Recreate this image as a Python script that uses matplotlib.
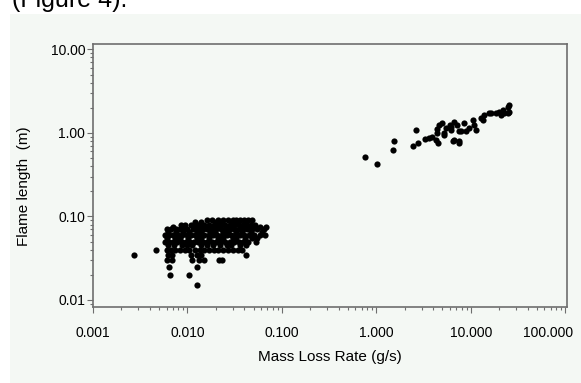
import numpy as np
import matplotlib
matplotlib.use("Agg")
import matplotlib.pyplot as plt
import matplotlib.transforms as mtransforms
from matplotlib.ticker import FixedLocator, FixedFormatter, LogLocator, NullFormatter
from matplotlib.patches import Rectangle

plt.rcParams['font.family'] = ['Liberation Sans', 'DejaVu Sans']

# lab-scale burns: flame length levels (m) and the mass loss rates (g/s) read at each level
flame_levels = [0.09, 0.085, 0.08, 0.075, 0.07, 0.065, 0.06, 0.055, 0.05, 0.045,
                0.04, 0.035, 0.03, 0.025, 0.02, 0.015]
mass_rows = [
    [0.016, 0.018, 0.021, 0.024, 0.027, 0.030, 0.033, 0.036, 0.040, 0.044, 0.048],
    [0.012, 0.014, 0.020, 0.023, 0.029, 0.034, 0.041],
    [0.0085, 0.0095, 0.011, 0.013, 0.015, 0.017, 0.019, 0.022, 0.025, 0.028,
     0.031, 0.035, 0.039, 0.043, 0.047, 0.052],
    [0.007, 0.009, 0.012, 0.014, 0.017, 0.021, 0.026, 0.030, 0.037, 0.045, 0.058, 0.067],
    [0.0060, 0.0067, 0.0075, 0.0083, 0.0092, 0.010, 0.0115, 0.013, 0.0145, 0.016,
     0.018, 0.020, 0.0225, 0.025, 0.028, 0.031, 0.035, 0.039, 0.043, 0.048, 0.055, 0.064],
    [0.0062, 0.0075, 0.009, 0.0105, 0.0125, 0.014, 0.0175, 0.0195, 0.024, 0.027,
     0.033, 0.038, 0.047, 0.062],
    [0.0058, 0.0064, 0.0071, 0.0079, 0.0088, 0.0098, 0.011, 0.012, 0.0135, 0.015,
     0.0168, 0.0185, 0.0205, 0.023, 0.026, 0.029, 0.032, 0.036, 0.040, 0.045, 0.050,
     0.058, 0.066],
    [0.0061, 0.0074, 0.0083, 0.0102, 0.0125, 0.0138, 0.017, 0.021, 0.0235, 0.030,
     0.033, 0.041, 0.048, 0.055],
    [0.0058, 0.0064, 0.0070, 0.0078, 0.0087, 0.0096, 0.0107, 0.0118, 0.013, 0.0145,
     0.016, 0.018, 0.020, 0.022, 0.025, 0.028, 0.031, 0.035, 0.039, 0.044, 0.053],
    [0.0062, 0.0072, 0.0088, 0.0100, 0.0113, 0.014, 0.016, 0.0185, 0.022, 0.026,
     0.029, 0.036, 0.042],
    [0.0046, 0.0060, 0.0067, 0.0074, 0.0083, 0.0093, 0.0105, 0.012, 0.0135, 0.015,
     0.017, 0.019, 0.021, 0.024, 0.027, 0.030, 0.034, 0.038],
    [0.0027, 0.0062, 0.0068, 0.011, 0.0125, 0.014, 0.0415],
    [0.0060, 0.0069, 0.0112, 0.0132, 0.0149, 0.0215, 0.023],
    [0.0063, 0.0127],
    [0.0066, 0.0103],
    [0.0125],
]

# large-scale burns
mass_large = [0.75, 1.02, 1.49, 1.53, 2.6, 2.45, 2.75, 3.24, 3.6, 3.9, 4.24, 4.5,
              4.4, 4.35, 4.6, 5.0, 5.4, 6.1, 6.0, 6.6, 7.2, 7.5, 6.6, 7.5, 5.2,
              5.2, 6.1, 7.8, 8.5, 8.9, 9.6, 10.4, 10.8, 11.3, 12.8, 13.3, 13.8,
              15.7, 16.3, 18.5, 20.0, 20.9, 21.7, 22.6, 24.6, 25.6, 25.6, 24.6, 6.4, 7.4]
flame_large = [0.52, 0.43, 0.62, 0.80, 1.09, 0.70, 0.75, 0.85, 0.88, 0.90, 0.82, 0.75,
               0.99, 1.11, 1.25, 1.31, 1.14, 1.09, 1.25, 1.36, 1.25, 1.04, 0.82, 0.79, 0.95,
               0.99, 1.19, 1.04, 1.31, 1.04, 1.14, 1.43, 1.25, 1.09, 1.50, 1.43, 1.64,
               1.72, 1.72, 1.75, 1.80, 1.64, 1.89, 1.72, 2.07, 1.80, 2.16, 1.72, 0.81, 0.75]

x_ticks = [0.001, 0.01, 0.1, 1, 10, 100]
x_labels = ['0.001', '0.010', '0.100', '1.000', '10.000', '100.000']
y_ticks = [0.01, 0.1, 1, 10]
y_labels = ['0.01', '0.10', '1.00', '10.00']

mass_lab = []
flame_lab = []
for lvl, row in zip(flame_levels, mass_rows):
    mass_lab += row
    flame_lab += [lvl] * len(row)

bg = '#f4f8f4'
fig = plt.figure(figsize=(5.81, 3.83), dpi=100, facecolor='white')
fig.patches.append(Rectangle((10 / 581, 0), 1, (383 - 14) / 383, transform=fig.transFigure,
                             facecolor=bg, edgecolor='none', zorder=-10))
# caption line of the page above, cut off by the crop
fig.text(12 / 581, 1 - 7 / 383, '(Figure 4).', fontsize=18, va='baseline', ha='left')

ax = fig.add_axes([93 / 581, 76 / 383, 474 / 581, 263 / 383])
ax.set_facecolor(bg)
ax.scatter(mass_lab, flame_lab, s=20, c='black', linewidths=0)
ax.scatter(mass_large, flame_large, s=20, c='black', linewidths=0)

ax.set_xscale('log')
ax.set_yscale('log')
ax.set_xlim(0.001, 104)
ax.set_ylim(0.00824, 11.6)

ax.xaxis.set_major_locator(FixedLocator(x_ticks))
ax.xaxis.set_major_formatter(FixedFormatter(x_labels))
ax.yaxis.set_major_locator(FixedLocator(y_ticks))
ax.yaxis.set_major_formatter(FixedFormatter(y_labels))
ax.xaxis.set_minor_locator(LogLocator(base=10, subs=np.arange(2, 10)))
ax.yaxis.set_minor_locator(LogLocator(base=10, subs=np.arange(2, 10)))
ax.xaxis.set_minor_formatter(NullFormatter())
ax.yaxis.set_minor_formatter(NullFormatter())

grey = '#6e6e6e'
for sp in ax.spines.values():
    sp.set_color(grey)
    sp.set_linewidth(1.2)
ax.tick_params(which='major', length=4, width=0.8, color=grey, labelsize=10)
ax.tick_params(which='minor', length=2.5, width=0.8, color=grey)
ax.tick_params(axis='x', which='major', pad=10)
ax.tick_params(axis='y', which='major', pad=1.5)

# last x label is pulled in so it stays inside the frame
fig.canvas.draw()
last = ax.get_xticklabels()[-1]
last.set_horizontalalignment('right')
last.set_transform(last.get_transform() + mtransforms.ScaledTranslation(8 / 100, 0, fig.dpi_scale_trans))

ax.set_xlabel('Mass Loss Rate (g/s)', fontsize=11, labelpad=7)
ax.set_ylabel('Flame length  (m)', fontsize=11)
ax.yaxis.set_label_coords(-0.13, 0.46)

fig.savefig('out.png', dpi=100, facecolor='white')
